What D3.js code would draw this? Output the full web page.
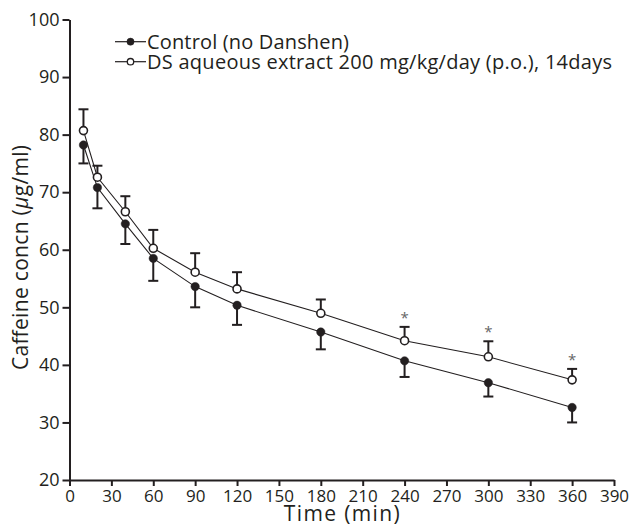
<!DOCTYPE html>
<html><head><meta charset="utf-8">
<script src="https://cdn.jsdelivr.net/npm/d3@7"></script>
<style>body{margin:0;background:#fff}svg{display:block}text{font-family:"Open Sans",sans-serif;fill:#231f20}</style>
</head><body>
<script>
const times = [10, 20, 40, 60, 90, 120, 180, 240, 300, 360];
const controlMean = [78.2, 70.8, 64.5, 58.5, 53.6, 50.35, 45.7, 40.7, 36.9, 32.6];
const controlSD   = [3.2, 3.6, 3.5, 3.9, 3.6, 3.4, 3.0, 2.8, 2.4, 2.6];
const dsMean = [80.7, 72.6, 66.6, 60.25, 56.1, 53.2, 48.96, 44.2, 41.4, 37.4];
const dsSD   = [3.7, 2.0, 2.7, 3.2, 3.3, 2.9, 2.4, 2.4, 2.7, 1.9];
const significant = [240, 300, 360];
const xTicks = [0,30,60,90,120,150,180,210,240,270,300,330,360,390];
const yTicks = [20,30,40,50,60,70,80,90,100];
const legendLabels = ["Control (no Danshen)", "DS aqueous extract 200 mg/kg/day (p.o.), 14days"];

const W = 630, H = 527;
const col = "#231f20";
const svg = d3.select("body").append("svg").attr("width", W).attr("height", H);
const x = d3.scaleLinear().domain([0, 390]).range([69.5, 614]);
const y = d3.scaleLinear().domain([20, 100]).range([480, 19.5]);

// axes
const xAxis = svg.append("g").attr("transform", `translate(0,${y(20)})`)
  .call(d3.axisBottom(x).tickValues(xTicks).tickSize(6).tickSizeOuter(0).tickPadding(4));
const yAxis = svg.append("g").attr("transform", `translate(${x(0)},0)`)
  .call(d3.axisLeft(y).tickValues(yTicks).tickSize(7).tickSizeOuter(0).tickPadding(3));
[xAxis, yAxis].forEach(a => {
  a.select(".domain").attr("stroke", col).attr("stroke-width", 2);
  a.selectAll(".tick line").attr("stroke", col).attr("stroke-width", 2);
  a.selectAll(".tick text").attr("fill", col).style("font-family", '"Open Sans",sans-serif');
});
xAxis.selectAll(".tick text").style("font-size", "17px").attr("dy", "0.72em");
yAxis.selectAll(".tick text").style("font-size", "18px");

// axis labels
svg.append("text").attr("x", x(195)).attr("y", 521).attr("text-anchor", "middle")
  .attr("textLength", 116).attr("lengthAdjust", "spacing")
  .style("font-size", "21px").text("Time (min)");
const yl = svg.append("text").attr("transform", `translate(28,257.5) rotate(-90)`)
  .attr("text-anchor", "middle").attr("textLength", 225).attr("lengthAdjust", "spacing")
  .style("font-size", "21px");
yl.append("tspan").text("Caffeine concn (");
yl.append("tspan").style("font-style", "italic").text("μ");
yl.append("tspan").text("g/ml)");

const line = d3.line().x(d => x(d[0])).y(d => y(d[1]));
function series(means, sds, dir, filled) {
  const pts = times.map((t, i) => [t, means[i], sds[i]]);
  svg.append("path").datum(pts).attr("d", line).attr("fill", "none").attr("stroke", col).attr("stroke-width", 1.1);
  const eb = svg.append("g").attr("stroke", col).attr("stroke-width", 2);
  pts.forEach(p => {
    const yEnd = y(p[1] + dir * p[2]);
    eb.append("line").attr("x1", x(p[0])).attr("x2", x(p[0])).attr("y1", y(p[1])).attr("y2", yEnd);
    eb.append("line").attr("x1", x(p[0]) - 5).attr("x2", x(p[0]) + 5).attr("y1", yEnd).attr("y2", yEnd);
  });
  svg.append("g").selectAll("circle").data(pts).join("circle")
    .attr("cx", d => x(d[0])).attr("cy", d => y(d[1]))
    .attr("r", filled ? 4.2 : 4)
    .attr("fill", filled ? col : "#fff").attr("stroke", col).attr("stroke-width", filled ? 0.5 : 1.6);
  return pts;
}
series(controlMean, controlSD, -1, true);
series(dsMean, dsSD, 1, false);

// significance stars
significant.forEach(t => {
  const i = times.indexOf(t);
  svg.append("text").attr("x", x(t)).attr("y", y(dsMean[i] + dsSD[i]) - 4)
    .attr("text-anchor", "middle").style("font-size", "15px").style("fill", "#666").text("*");
});

// legend
legendLabels.forEach((lab, i) => {
  const cy = 41.7 + i * 20;
  svg.append("line").attr("x1", 115).attr("x2", 146).attr("y1", cy).attr("y2", cy).attr("stroke", col).attr("stroke-width", 1.2);
  svg.append("circle").attr("cx", 130.5).attr("cy", cy).attr("r", i === 0 ? 3.6 : 3.2)
    .attr("fill", i === 0 ? col : "#fff").attr("stroke", col).attr("stroke-width", i === 0 ? 0.5 : 1.3);
  const t = svg.append("text").attr("x", 147).attr("y", cy).attr("dy", "0.36em").style("font-size", "20px").text(lab);
  if (i === 1) t.attr("textLength", 465).attr("lengthAdjust", "spacing");
  if (i === 0) t.attr("textLength", 202).attr("lengthAdjust", "spacing");
});
</script>
</body></html>
